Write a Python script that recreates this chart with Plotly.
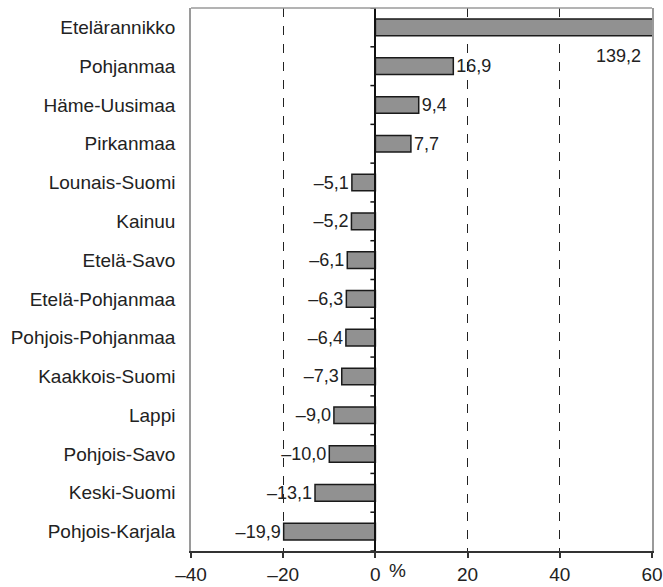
import plotly.graph_objects as go

regions = ["Etelärannikko", "Pohjanmaa", "Häme-Uusimaa", "Pirkanmaa", "Lounais-Suomi",
           "Kainuu", "Etelä-Savo", "Etelä-Pohjanmaa", "Pohjois-Pohjanmaa", "Kaakkois-Suomi",
           "Lappi", "Pohjois-Savo", "Keski-Suomi", "Pohjois-Karjala"]
values = [139.2, 16.9, 9.4, 7.7, -5.1, -5.2, -6.1, -6.3, -6.4, -7.3, -9.0, -10.0, -13.1, -19.9]
x_ticks = [-40, -20, 0, 20, 40, 60]
x_tick_labels = ["–40", "–20", "0", "20", "40", "60"]
x_min, x_max = -40, 60

FONT = "Liberation Sans, Arial, Helvetica, sans-serif"
FS = 19


def fmt(v):
    return f"{v:.1f}".replace(".", ",").replace("-", "–")


labels = [fmt(v) for v in values]
positions = ["none" if v > x_max else "outside" for v in values]
n = len(regions)

fig = go.Figure()
fig.add_trace(go.Bar(
    y=regions, x=values, orientation="h",
    marker=dict(color="#919191", line=dict(color="#1a1a1a", width=1.5)),
    text=labels, textposition=positions, cliponaxis=True, constraintext="none",
    textfont=dict(family=FONT, size=FS - 1, color="#222"),
    showlegend=False, hoverinfo="skip",
))

# category-boundary tick marks on the left side of the zero line
plot_w_px = 663 - 191 - 11
tick_units = 5 * (x_max - x_min) / plot_w_px
tx, ty = [], []
for b in [i - 0.5 for i in range(n + 1)]:
    tx += [-tick_units, 0, None]
    ty += [b, b, None]
fig.add_trace(go.Scatter(x=tx, y=ty, yaxis="y2", mode="lines",
                         line=dict(color="#111", width=1.5), cliponaxis=False,
                         showlegend=False, hoverinfo="skip"))

# clipped bar label
for r, v in zip(regions, values):
    if v > x_max:
        fig.add_annotation(x=x_max, y=r, text=fmt(v), showarrow=False,
                           xanchor="right", yanchor="middle", xshift=-9, yshift=-29,
                           font=dict(family=FONT, size=FS - 1, color="#222"))

fig.add_annotation(x=4.8, y=0, yref="paper", text="%", showarrow=False,
                   xanchor="center", yanchor="top", yshift=-7,
                   font=dict(family=FONT, size=FS, color="#222"))

fig.add_shape(type="line", xref="paper", yref="paper", x0=0, x1=1, y0=1, y1=1,
              line=dict(color="#9a9a9a", width=1.5))

zero_pos = (0 - x_min) / (x_max - x_min)

fig.update_layout(
    width=663, height=587,
    margin=dict(l=191, r=11, t=8, b=36),
    plot_bgcolor="white", paper_bgcolor="white",
    bargap=0.57,
    font=dict(family=FONT, size=FS, color="#222"),
    xaxis=dict(range=[x_min, x_max], tickvals=x_ticks, ticktext=x_tick_labels,
               showgrid=True, gridcolor="#222", griddash="dash", gridwidth=1,
               zeroline=False, showline=True, linecolor="#333", linewidth=1.5,
               ticks="outside", ticklen=5, tickcolor="#333", tickwidth=1.5,
               automargin=False,
               tickfont=dict(family=FONT, size=FS, color="#222")),
    yaxis=dict(type="category", categoryorder="array", categoryarray=regions,
               range=[n - 0.5, -0.5], autorange=False, automargin=False,
               showgrid=False, showline=True, mirror=True, linecolor="#9a9a9a", linewidth=1.5,
               ticks="", ticklabelstandoff=10, tickfont=dict(family=FONT, size=FS, color="#222")),
    yaxis2=dict(type="linear", overlaying="y", anchor="free", position=zero_pos, side="left",
                range=[n - 0.5, -0.5], autorange=False,
                showticklabels=False, ticks="", showline=True, linecolor="#111", linewidth=1.5,
                showgrid=False, zeroline=False, automargin=False),
)

fig.write_html(
    "out.html",
    config={"displayModeBar": False},
    post_script=(
        "document.documentElement.style.overflow='hidden';"
        "document.body.style.margin='0';document.body.style.overflow='hidden';"
        "document.body.style.width='663px';document.body.style.height='587px';"
        "var g=document.getElementById('{plot_id}');g.style.overflow='hidden';"
    ),
)
